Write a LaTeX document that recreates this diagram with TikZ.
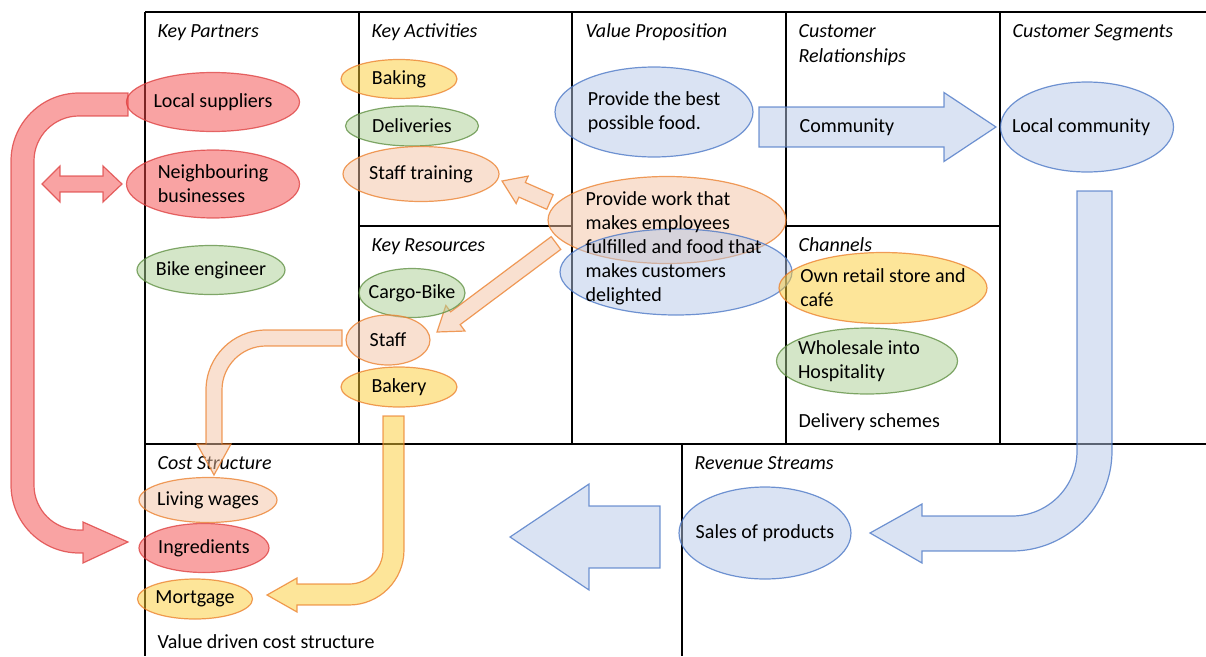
\documentclass[tikz,border=0pt]{standalone}
\usepackage{fontspec}
\setmainfont{Carlito}
\usetikzlibrary{shapes.geometric,calc}

\definecolor{rdfill}{RGB}{244,72,72}
\definecolor{rdline}{RGB}{220,60,60}
\definecolor{gnfill}{RGB}{169,205,145}
\definecolor{gnline}{RGB}{90,140,60}
\definecolor{ylfill}{RGB}{251,203,51}
\definecolor{ylline}{RGB}{235,125,40}
\definecolor{pcfill}{RGB}{243,193,161}
\definecolor{pcline}{RGB}{235,125,40}
\definecolor{blfill}{RGB}{181,199,231}
\definecolor{blline}{RGB}{68,114,196}

\tikzset{every picture/.style={line width=1.2pt}}
\tikzset{
  tint/.style={draw=#1line, fill=#1fill, fill opacity=.5, draw opacity=.75},
  blob/.style={ellipse, tint=#1, text opacity=1, align=left,
               inner xsep=-40pt, inner ysep=0pt}, % text may run past the rim
  dims/.style 2 args={minimum width=#1pt, minimum height=#2pt},
  boxtitle/.style={anchor=base west, font=\fontsize{20}{25}\selectfont\itshape},
  note/.style={anchor=base west},
}
% block arrow: style, tail, tip, half shaft, half head, head length
\newcommand\blockarrow[6]{%
  \coordinate (ah) at ($(#3)!#6!(#2)$);
  \draw[#1] ($(#2)!#4!90:(#3)$) -- ($(ah)!#4!90:(#3)$) -- ($(ah)!#5!90:(#3)$) -- (#3)
    -- ($(ah)!#5!-90:(#3)$) -- ($(ah)!#4!-90:(#3)$) -- ($(#2)!#4!-90:(#3)$) -- cycle;
}

\begin{document}
\begin{tikzpicture}[x=1pt, y=1pt, yscale=-1,
  every node/.style={inner sep=0pt, font=\fontsize{20}{24}\selectfont}]
  \useasboundingbox (0,0) rectangle (1206,656);
  % canvas grid
  \draw (145,12) -- (1206,12);
  \draw (145,12) -- (145,656);
  \foreach \x in {359,572,786,1000} \draw (\x,12) -- (\x,444);
  \draw (359,226) -- (572,226);
  \draw (786,226) -- (1000,226);
  \draw (145,444) -- (1206,444);
  \draw (682,444) -- (682,656);
  % block titles
  \node[boxtitle] (tkp) at (157,37) {Key Partners};
  \node[boxtitle] (tka) at (371,37) {Key Activities};
  \node[boxtitle] (tvp) at (585,37) {Value Proposition};
  \node[boxtitle, align=left] (tcr) at (798,62) {Customer\\Relationships};
  \node[boxtitle] (tcs) at (1012,37) {Customer Segments};
  \node[boxtitle] (tkr) at (371,251) {Key Resources};
  \node[boxtitle] (tch) at (798,251) {Channels};
  \node[boxtitle] (tcst) at (157,469) {Cost Structure};
  \node[boxtitle] (trs) at (694,469) {Revenue Streams};
  % bent arrows
  \draw[tint=rd] (128,93) -- (79,93) arc[start angle=270, end angle=180, radius=68]
    -- (11,485) arc[start angle=180, end angle=90, radius=68] -- (83,553) -- (83,563)
    -- (128,542) -- (83,522) -- (83,530) -- (79,530)
    arc[start angle=90, end angle=180, radius=45] -- (34,161)
    arc[start angle=180, end angle=270, radius=45] -- (128,116) -- cycle;
  \draw[tint=pc] (342,330) -- (266,330) arc[start angle=270, end angle=180, radius=60]
    -- (206,444) -- (197,444) -- (214,475) -- (231,444) -- (222,444) -- (222,390)
    arc[start angle=180, end angle=270, radius=44] -- (342,346) -- cycle;
  \draw[tint=yl] (383,416) -- (404,416) -- (404,550) arc[start angle=0, end angle=90, radius=55]
    -- (297,605) -- (297,612) -- (267,595) -- (297,578) -- (297,584) -- (349,584)
    arc[start angle=90, end angle=0, radius=34] -- cycle;
  \draw[tint=bl] (1077,191) -- (1112,191) -- (1112,451) arc[start angle=0, end angle=90, radius=100]
    -- (922,551) -- (922,563) -- (870,533) -- (922,504) -- (922,516) -- (1012,516)
    arc[start angle=90, end angle=0, radius=65] -- cycle;
  \draw[tint=rd] (42,184) -- (60,166) -- (60,176) -- (103,176) -- (103,166) -- (122,184)
    -- (103,202) -- (103,192) -- (60,192) -- (60,202) -- cycle;
  % straight arrows
  \coordinate (st0) at (550,202); \coordinate (st1) at (502,181);
  \coordinate (sf0) at (556,243); \coordinate (sf1) at (437,332);
  \coordinate (cm0) at (759,127); \coordinate (cm1) at (996,127);
  \coordinate (rv0) at (660,537); \coordinate (rv1) at (510,537);
  \blockarrow{tint=pc}{st0}{st1}{8pt}{15pt}{22pt}
  \blockarrow{tint=pc}{sf0}{sf1}{8pt}{16pt}{23pt}
  \blockarrow{tint=bl}{cm0}{cm1}{20pt}{34.5pt}{52pt}
  \blockarrow{tint=bl}{rv0}{rv1}{31pt}{53pt}{79pt}
  % Key Partners
  \node[blob=rd, dims={173}{59}] (sup) at (213,102) {Local suppliers};
  \node[blob=rd, dims={173}{68}] (nb) at (213,184) {Neighbouring\\businesses};
  \node[blob=gn, dims={148}{49}] (bike) at (211,270) {Bike engineer};
  % Key Activities
  \node[blob=yl, dims={116}{39}] (bak) at (399,79) {Baking};
  \node[blob=gn, dims={133}{40}] (del) at (412,126) {Deliveries};
  \node[blob=pc, dims={156}{55}] (trn) at (421,174) {Staff training};
  % Key Resources
  \node[blob=gn, dims={106}{49}] (cargo) at (412,293) {Cargo-Bike};
  \node[blob=pc, dims={84}{50}] (staff) at (388,340) {Staff};
  \node[blob=yl, dims={116}{40}] (bkr) at (399,387) {Bakery};
  % Value Proposition
  \node[blob=bl, dims={198}{90}] (food) at (654,112) {Provide the best\\possible food.};
  \node[blob=pc, dims={238}{87}] (workA) at (667,220) {};
  \node[blob=bl, dims={232}{86}] (workB) at (676,272) {};
  \node[anchor=west, align=left] (work) at (585,248)
    {Provide work that\\makes employees\\fulfilled and food that\\makes customers\\delighted};
  % Customer Relationships
  \node[note] (comm) at (799,132) {Community};
  % Channels
  \node[blob=yl, dims={208}{71}] (store) at (883,288) {Own retail store and\\café};
  \node[blob=gn, dims={181}{66}, text width=138pt, align=flush left] (whole) at (867,361)
    {Wholesale into\\Hospitality};
  \node[note] (dlv) at (798,427) {Delivery schemes};
  % Customer Segments
  \node[blob=bl, dims={173}{90}, text width=150pt, align=flush left] (loc) at (1087,127)
    {Local community};
  % Cost Structure
  \node[blob=pc, dims={138}{45}] (wage) at (208,500) {Living wages};
  \node[blob=rd, dims={130}{49}] (ingr) at (204,548) {Ingredients};
  \node[blob=yl, dims={115}{40}] (mort) at (195,599) {Mortgage};
  \node[note] (vd) at (157,648) {Value driven cost structure};
  % Revenue Streams
  \node[blob=bl, dims={172}{92}] (sales) at (765,533) {Sales of products};
\end{tikzpicture}
\end{document}
